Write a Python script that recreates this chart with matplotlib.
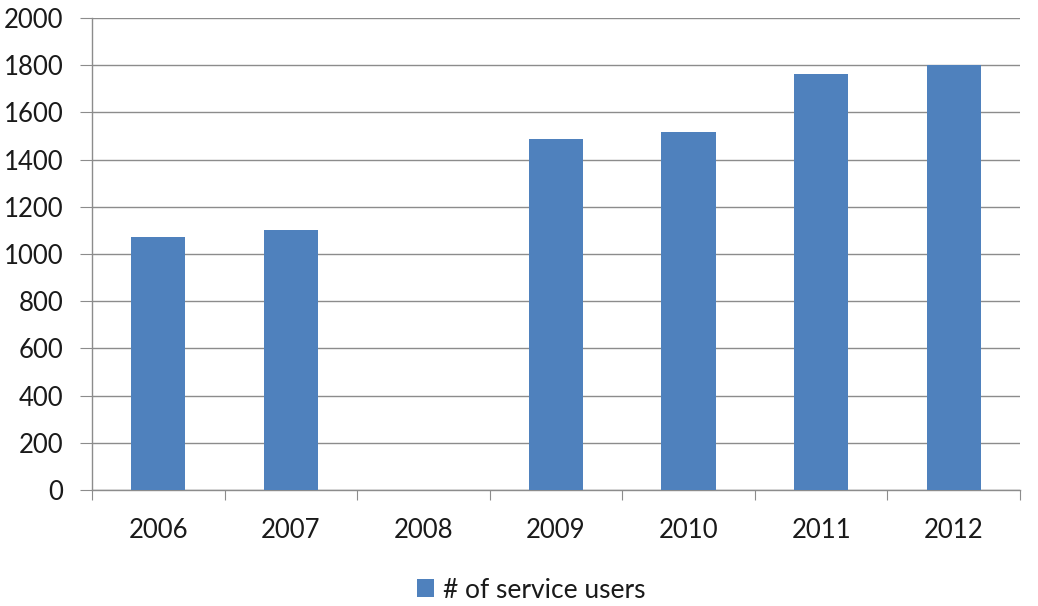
import matplotlib.pyplot as plt
import numpy as np

# dados do gráfico
anos = ['2006', '2007', '2008', '2009', '2010', '2011', '2012']
usuarios = [1072, 1102, 0, 1486, 1518, 1763, 1801]
serie_nome = '# of service users'

plt.rcParams['font.family'] = ['Lato', 'DejaVu Sans']

fig = plt.figure(figsize=(10.38, 6.06), dpi=100)
ax = fig.add_axes([92 / 1038, 1 - 490 / 606, (1020 - 92) / 1038, (490 - 18) / 606])

x = np.arange(len(anos))
ax.bar(x, usuarios, width=0.41, color='#4f81bd', label=serie_nome, zorder=3)

ax.set_xlim(-0.5, len(anos) - 0.5)
ax.set_ylim(0, 2000)
ax.set_yticks(np.arange(0, 2001, 200))
ax.yaxis.grid(True, color='#8c8c8c', linewidth=1.0, zorder=0)

# ticks nas fronteiras das categorias
ax.set_xticks(np.arange(-0.5, len(anos)), minor=False)
ax.set_xticklabels([])
ax.set_xticks(x, minor=True)
ax.set_xticklabels(anos, minor=True)
ax.tick_params(axis='x', which='major', length=7, color='#8c8c8c', direction='out')
ax.tick_params(axis='x', which='minor', length=0, pad=20, labelsize=18.5, labelcolor='#1a1a1a')
ax.tick_params(axis='y', length=8.5, color='#8c8c8c', direction='out', pad=12,
               labelsize=18.5, labelcolor='#1a1a1a')

for lado in ['top', 'right']:
    ax.spines[lado].set_visible(False)
for lado in ['left', 'bottom']:
    ax.spines[lado].set_color('#8c8c8c')
    ax.spines[lado].set_linewidth(1.0)

fig.legend(loc='center', bbox_to_anchor=(531 / 1038, 1 - 590 / 606), frameon=False,
           fontsize=19, handlelength=0.65, handleheight=0.65, handletextpad=0.35,
           labelcolor='#1a1a1a', borderpad=0)

fig.savefig('out.png', dpi=100)
